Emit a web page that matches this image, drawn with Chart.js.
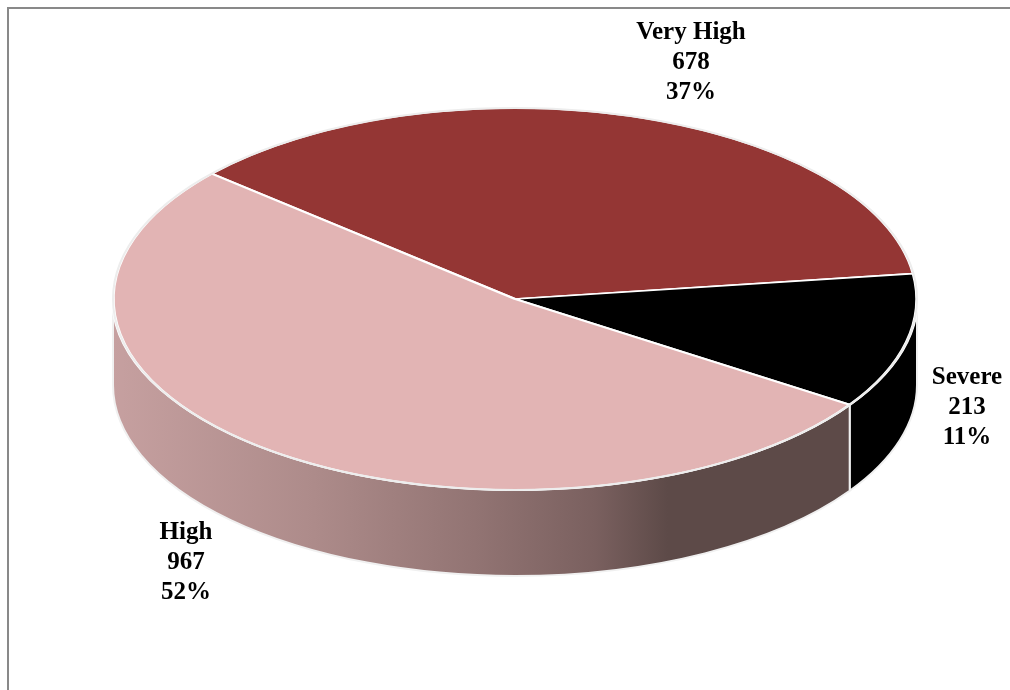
<!DOCTYPE html>
<html>
<head>
<meta charset="utf-8">
<script src="https://cdn.jsdelivr.net/npm/chart.js@4.4.1/dist/chart.umd.min.js"></script>
<style>
  html, body { margin: 0; padding: 0; background: #fff; }
  canvas { display: block; }
</style>
</head>
<body>
<canvas id="riskPie" width="1010" height="690"></canvas>
<script>
// data
const categories = ['Very High', 'Severe', 'High'];
const counts = [678, 213, 967];
const percents = [37, 11, 52];

const topColors = ['#943634', '#000000', '#E2B4B4'];
const sideColors = ['#6E2624', '#000000', null]; // null -> shaded gradient

// tilted disc geometry (pixels) and label anchors
const disc = { cx: 515, cy: 299, rx: 402, ry: 191, depth: 86 };
const labelPos = [[691, 33], [967, 378], [186, 533]];

// parts of an arc that lie on the front half (0..PI, canvas angles)
function frontParts(s, e) {
  const TAU = Math.PI * 2;
  const off = Math.floor(s / TAU) * TAU;
  s -= off; e -= off;
  const parts = [];
  [[0, Math.PI], [TAU, TAU + Math.PI]].forEach(([lo, hi]) => {
    const a = Math.max(s, lo), b = Math.min(e, hi);
    if (b > a) parts.push([a, b]);
  });
  return parts;
}

function drawSides(ctx, arcs) {
  const { cx, cy, rx, ry, depth } = disc;
  const grad = ctx.createLinearGradient(cx - rx, 0, cx + rx, 0);
  grad.addColorStop(0, '#C6A0A0');
  grad.addColorStop(0.25, '#AD8B8A');
  grad.addColorStop(0.45, '#927473');
  grad.addColorStop(0.6, '#7A605F');
  grad.addColorStop(0.69, '#5D4A48');
  grad.addColorStop(1, '#5D4A48');

  arcs.forEach((arc, i) => {
    frontParts(arc.startAngle, arc.endAngle).forEach(([a, b]) => {
      ctx.beginPath();
      ctx.ellipse(cx, cy, rx, ry, 0, a, b);
      ctx.ellipse(cx, cy + depth, rx, ry, 0, b, a, true);
      ctx.closePath();
      ctx.fillStyle = sideColors[i] || grad;
      ctx.fill();
      ctx.strokeStyle = '#F0F0F0';
      ctx.lineWidth = 2;
      ctx.stroke();
    });
  });
}

const tiltPie = {
  id: 'tiltPie',
  beforeDraw(chart) {
    const ctx = chart.ctx;
    ctx.save();
    ctx.strokeStyle = '#898989';
    ctx.lineWidth = 2;
    ctx.beginPath();
    ctx.moveTo(8, 690);
    ctx.lineTo(8, 8);
    ctx.lineTo(1010, 8);
    ctx.stroke();
    ctx.restore();
  },
  beforeDatasetsDraw(chart) {
    const ctx = chart.ctx;
    const arcs = chart.getDatasetMeta(0).data;
    ctx.save();
    drawSides(ctx, arcs);
    ctx.restore();

    // squash the flat pie into the top face of the disc
    const a = arcs[0];
    const R = a.outerRadius;
    ctx.save();
    ctx.translate(disc.cx, disc.cy);
    ctx.scale(disc.rx / R, disc.ry / R);
    ctx.translate(-a.x, -a.y);
  },
  afterDatasetsDraw(chart) {
    const ctx = chart.ctx;
    ctx.restore();
    ctx.save();
    ctx.strokeStyle = '#EDEDED';
    ctx.lineWidth = 2;
    ctx.beginPath();
    ctx.ellipse(disc.cx, disc.cy, disc.rx, disc.ry, 0, 0, Math.PI * 2);
    ctx.stroke();
    ctx.restore();
  },
  afterDraw(chart) {
    const ctx = chart.ctx;
    ctx.save();
    ctx.font = 'bold 25px "Liberation Serif", serif';
    ctx.fillStyle = '#000';
    ctx.textAlign = 'center';
    ctx.textBaseline = 'middle';
    categories.forEach((c, i) => {
      const [x, y] = labelPos[i];
      [c, String(counts[i]), percents[i] + '%'].forEach((t, k) => {
        ctx.fillText(t, x, y + k * 30);
      });
    });
    ctx.restore();
  }
};

new Chart(document.getElementById('riskPie'), {
  type: 'pie',
  data: {
    labels: categories,
    datasets: [{
      data: counts,
      backgroundColor: topColors,
      borderColor: '#FFFFFF',
      borderWidth: 3,
      clip: false
    }]
  },
  options: {
    responsive: false,
    animation: false,
    rotation: -49,
    events: [],
    layout: { padding: 0 },
    plugins: {
      legend: { display: false },
      tooltip: { enabled: false }
    }
  },
  plugins: [tiltPie]
});
</script>
</body>
</html>
